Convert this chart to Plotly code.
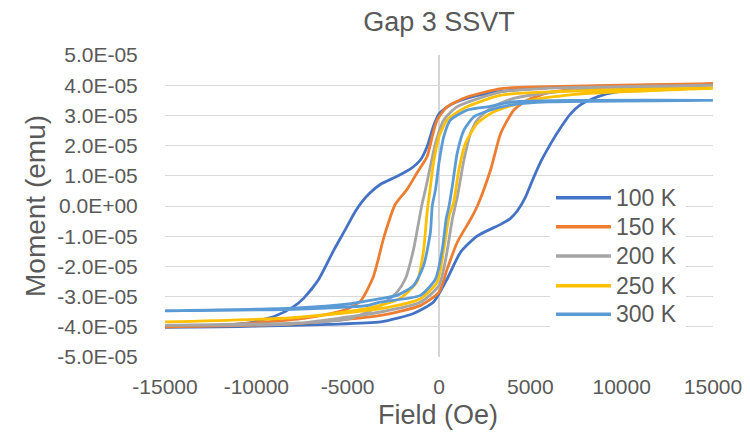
import plotly.graph_objects as go

# Field (Oe) and moment (units of 1E-05 emu) for each loop: descending branch then ascending branch
H_100K = [15000, 12000, 10000, 6000, 3500, 2000, 1200, 500, 0, -300, -650, -1000, -1600, -2400, -3200, -3800, -4200, -4600, -5100, -5750, -6600, -7400, -8000, -9000, -10500, -12500, -15000,
          -12000, -10000, -6000, -3200, -1400, -300, 450, 1180, 2100, 3400, 3900, 4300, 4700, 5150, 5600, 6100, 6700, 7200, 7700, 8400, 9000, 10000, 11000, 13000, 15000]
M_100K = [4.02, 4.0, 3.98, 3.92, 3.8, 3.65, 3.5, 3.3, 3.05, 2.65, 1.97, 1.54, 1.21, 0.95, 0.72, 0.42, 0.15, -0.2, -0.75, -1.45, -2.44, -3.05, -3.35, -3.65, -3.88, -3.97, -4.02,
          -4.0, -3.98, -3.92, -3.84, -3.56, -3.18, -2.41, -1.53, -0.99, -0.6, -0.42, -0.15, 0.25, 0.9, 1.5, 2.05, 2.63, 3.05, 3.33, 3.55, 3.68, 3.8, 3.88, 3.97, 4.02]

H_150K = [15000, 10000, 6000, 3400, 1500, 450, -100, -370, -650, -1200, -1750, -2400, -3000, -3600, -4300, -5200, -7400, -11600, -15000,
          -8000, -3200, -1000, 0, 450, 1000, 1730, 2100, 2830, 3380, 4100, 4850, 6000, 8000, 11000, 15000]
M_150K = [4.05, 4.0, 3.95, 3.89, 3.6, 3.29, 2.85, 2.3, 1.64, 1.1, 0.55, 0.05, -1.0, -2.35, -3.15, -3.45, -3.72, -3.93, -4.0,
          -3.9, -3.62, -3.29, -2.85, -2.08, -1.2, -0.44, 0.0, 1.21, 2.41, 3.18, 3.51, 3.75, 3.9, 4.0, 4.05]

H_200K = [15000, 10000, 6000, 3400, 1000, 260, -190, -470, -740, -950, -1390, -1840, -2300, -3200, -5000, -8000, -15000,
          -8000, -3200, -1000, 0, 370, 730, 1000, 1370, 1730, 2100, 2830, 4000, 6000, 9000, 15000]
M_200K = [4.0, 3.95, 3.9, 3.78, 3.29, 2.85, 2.09, 1.32, 0.55, 0.0, -1.43, -2.41, -2.85, -3.3, -3.75, -3.88, -3.95,
          -3.9, -3.51, -3.18, -2.63, -1.75, -0.44, 0.3, 1.54, 2.41, 2.85, 3.24, 3.55, 3.75, 3.9, 3.98]

H_250K = [15000, 10000, 6000, 3400, 1370, 450, 0, -300, -500, -650, -850, -1200, -2100, -3220, -5000, -8000, -15000,
          -8000, -3220, -1020, -100, 260, 550, 800, 1090, 1460, 2100, 3000, 5000, 8000, 15000]
M_250K = [3.9, 3.85, 3.78, 3.67, 3.24, 2.85, 2.3, 1.43, 0.5, -0.2, -1.5, -2.5, -3.05, -3.29, -3.5, -3.7, -3.84,
          -3.7, -3.4, -3.07, -2.52, -1.43, -0.33, 0.11, 1.21, 2.09, 2.74, 3.12, 3.5, 3.72, 3.9]

H_300K = [15000, 8000, 4000, 2800, 1550, 630, 260, 0, -190, -370, -470, -840, -1390, -2300, -3220, -4800, -8000, -15000,
          -8000, -4000, -3220, -1020, -190, 180, 400, 550, 730, 1000, 1370, 1920, 2830, 4000, 6000, 15000]
M_300K = [3.5, 3.5, 3.45, 3.3, 3.18, 2.85, 2.3, 1.43, 0.55, 0.0, -0.87, -1.97, -2.63, -2.96, -3.07, -3.23, -3.38, -3.47,
          -3.42, -3.3, -3.18, -2.96, -2.41, -1.43, -0.4, 0.0, 0.66, 1.76, 2.52, 2.96, 3.18, 3.35, 3.45, 3.5]

series_names = ["100 K", "150 K", "200 K", "250 K", "300 K"]
series_H = [H_100K, H_150K, H_200K, H_250K, H_300K]
series_M = [M_100K, M_150K, M_200K, M_250K, M_300K]
colors = ["#4472C4", "#ED7D31", "#A5A5A5", "#FFC000", "#5B9BD5"]

y_tickvals = [v * 1e-5 for v in range(-5, 6)]
y_ticktext = ["-5.0E-05", "-4.0E-05", "-3.0E-05", "-2.0E-05", "-1.0E-05", "0.0E+00",
              "1.0E-05", "2.0E-05", "3.0E-05", "4.0E-05", "5.0E-05"]
x_tickvals = [-15000, -10000, -5000, 0, 5000, 10000, 15000]
x_ticktext = ["-15000", "-10000", "-5000", "0", "5000", "10000", "15000"]

FONT = "Liberation Sans"
TXT = "#595959"
W, Ht = 750, 441
L, R, T, B = 165, 713, 55, 357

def px(x):
    return (x - L) / (R - L)

def py(y):
    return (B - y) / (B - T)

fig = go.Figure()
for name, H, M, c in zip(series_names, series_H, series_M, colors):
    fig.add_trace(go.Scatter(x=H, y=[m * 1e-5 for m in M], mode="lines", name=name,
                             line=dict(color=c, width=2.8, shape="spline", smoothing=0.6),
                             showlegend=False, hoverinfo="skip"))

# custom legend (Excel style, long line samples)
shapes = [dict(type="rect", xref="paper", yref="paper", x0=px(550), x1=px(686), y0=py(333), y1=py(180),
               fillcolor="white", line=dict(width=0), layer="above")]
annots = []
leg_y = [197.7, 226.7, 256, 285.7, 314.3]
for name, c, yy in zip(series_names, colors, leg_y):
    shapes.append(dict(type="line", xref="paper", yref="paper", x0=px(556), x1=px(611), y0=py(yy), y1=py(yy),
                       line=dict(color=c, width=3.5), layer="above"))
    annots.append(dict(text=name, xref="paper", yref="paper", x=px(614), y=py(yy), xanchor="left", yanchor="middle",
                       showarrow=False, font=dict(family=FONT, size=23, color=TXT)))

# axis titles
annots.append(dict(text="Field (Oe)", xref="paper", yref="paper", x=px(438), y=py(415), xanchor="center",
                   yanchor="middle", showarrow=False, font=dict(family=FONT, size=27, color=TXT)))
annots.append(dict(text="Moment (emu)", xref="paper", yref="paper", x=px(35), y=py(206), xanchor="center",
                   yanchor="middle", textangle=-90, showarrow=False, font=dict(family=FONT, size=28, color=TXT)))

fig.update_layout(
    width=W, height=Ht,
    margin=dict(l=L, r=W - R, t=T, b=Ht - B, autoexpand=False),
    paper_bgcolor="white", plot_bgcolor="white",
    title=dict(text="Gap 3 SSVT", x=(L + R) / 2 / W, xanchor="center", y=1 - 22 / Ht, yanchor="middle",
               font=dict(family=FONT, size=27, color=TXT)),
    xaxis=dict(range=[-15000, 15000], tickvals=x_tickvals, ticktext=x_ticktext, showgrid=False, zeroline=False,
               showline=False, ticks="outside", ticklen=11, tickcolor="rgba(0,0,0,0)", automargin=False,
               tickfont=dict(family=FONT, size=21, color=TXT)),
    yaxis=dict(range=[-5e-5, 5e-5], tickvals=y_tickvals, ticktext=y_ticktext, showgrid=True,
               gridcolor="#D9D9D9", gridwidth=1.3, zeroline=False, showline=False,
               ticks="outside", ticklen=22, tickcolor="rgba(0,0,0,0)", automargin=False,
               tickfont=dict(family=FONT, size=21, color=TXT)),
    shapes=shapes, annotations=annots,
)
# vertical axis line at x = 0
fig.add_vline(x=0, line=dict(color="#BFBFBF", width=1.3), layer="below")

fig.write_html("out.html", config={"displayModeBar": False},
               post_script="document.body.style.margin='0';document.body.style.padding='0';document.body.style.overflow='hidden';")
